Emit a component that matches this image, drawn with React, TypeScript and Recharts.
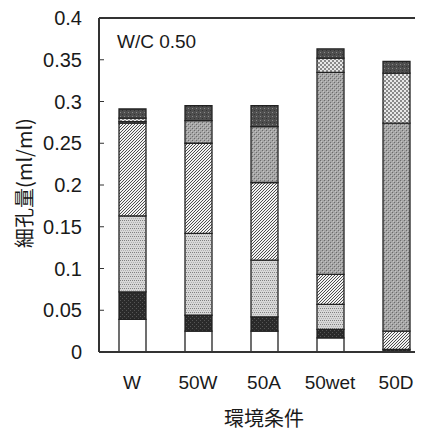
import React from 'react';
import { BarChart, Bar, XAxis, YAxis, ReferenceLine } from 'recharts';

const categories = ['W', '50W', '50A', '50wet', '50D'];
// segments bottom -> top
const seg1 = [0.039, 0.025, 0.025, 0.017, 0.0];
const seg2 = [0.033, 0.019, 0.017, 0.010, 0.003];
const seg3 = [0.091, 0.098, 0.068, 0.030, 0.0];
const seg4 = [0.111, 0.108, 0.093, 0.036, 0.022];
const seg5 = [0.002, 0.027, 0.067, 0.242, 0.249];
const seg6 = [0.004, 0.0, 0.0, 0.017, 0.060];
const seg7 = [0.011, 0.018, 0.025, 0.011, 0.014];
const yTicks = [0, 0.05, 0.1, 0.15, 0.2, 0.25, 0.3, 0.35, 0.4];
const yTickLabels = ['0', '0.05', '0.1', '0.15', '0.2', '0.25', '0.3', '0.35', '0.4'];
const boundaryTicks = [1, 2, 3, 4];

const data = categories.map((c, i) => ({
  name: c,
  s1: seg1[i],
  s2: seg2[i],
  s3: seg3[i],
  s4: seg4[i],
  s5: seg5[i],
  s6: seg6[i],
  s7: seg7[i],
}));

const fills = ['#ffffff', 'url(#pDark)', 'url(#pLight)', 'url(#pHatch)', 'url(#pGray)', 'url(#pCheck)', 'url(#pTop)'];
const keys = ['s1', 's2', 's3', 's4', 's5', 's6', 's7'];

const font = '"Liberation Sans", Arial, sans-serif';
const cjk = '"Noto Sans CJK JP", "Noto Sans CJK SC", sans-serif';

export default function App() {
  return (
    <div style={{ position: 'relative', width: 415, height: 424, overflow: 'hidden' }}>
      <BarChart
        width={440}
        height={424}
        data={data}
        margin={{ top: 10, right: 19, left: 0, bottom: 0 }}
        barCategoryGap={0}
      >
        <defs>
          <pattern id="pDark" patternUnits="userSpaceOnUse" width="4" height="4">
            <rect width="4" height="4" fill="#2a2a2a" />
            <rect x="0" y="0" width="1" height="1" fill="#555" />
            <rect x="2" y="2" width="1" height="1" fill="#555" />
          </pattern>
          <pattern id="pLight" patternUnits="userSpaceOnUse" width="4" height="4">
            <rect width="4" height="4" fill="#d8d8d8" />
            <rect x="0" y="0" width="1" height="1" fill="#808080" />
            <rect x="2" y="0" width="1" height="1" fill="#808080" />
            <rect x="1" y="2" width="1" height="1" fill="#b0b0b0" />
            <rect x="3" y="2" width="1" height="1" fill="#b0b0b0" />
          </pattern>
          <pattern id="pHatch" patternUnits="userSpaceOnUse" width="3" height="3">
            <rect width="3" height="3" fill="#f2f2f2" />
            <path d="M-1,1 l2,-2 M0,3 l3,-3 M2,4 l2,-2" stroke="#3a3a3a" strokeWidth="0.9" />
          </pattern>
          <pattern id="pGray" patternUnits="userSpaceOnUse" width="4" height="4">
            <rect width="4" height="4" fill="#a6a6a6" />
            <rect x="0" y="0" width="1" height="1" fill="#6a6a6a" />
            <rect x="2" y="2" width="1" height="1" fill="#6a6a6a" />
            <rect x="1" y="1" width="1" height="1" fill="#c4c4c4" />
            <rect x="3" y="3" width="1" height="1" fill="#c4c4c4" />
          </pattern>
          <pattern id="pCheck" patternUnits="userSpaceOnUse" width="4" height="4">
            <rect width="4" height="4" fill="#e8e8e8" />
            <rect x="0" y="0" width="2" height="2" fill="#8a8a8a" />
            <rect x="2" y="2" width="2" height="2" fill="#8a8a8a" />
          </pattern>
          <pattern id="pTop" patternUnits="userSpaceOnUse" width="4" height="4">
            <rect width="4" height="4" fill="#4e4e4e" />
            <rect x="0" y="0" width="1" height="1" fill="#888" />
            <rect x="2" y="2" width="1" height="1" fill="#333" />
          </pattern>
        </defs>
        <XAxis
          xAxisId="t"
          type="number"
          domain={[0, 5]}
          ticks={boundaryTicks}
          height={0}
          axisLine={false}
          tick={false}
          tickSize={-5}
          tickLine={{ stroke: '#333', strokeWidth: 1 }}
        />
        <XAxis
          dataKey="name"
          height={80}
          tickLine={false}
          tickSize={0}
          tickMargin={24}
          axisLine={{ stroke: '#333', strokeWidth: 2 }}
          tick={{ fill: '#1a1a1a', fontSize: 19, fontFamily: font }}
        />
        <YAxis
          width={91}
          domain={[0, 0.4]}
          ticks={yTicks}
          interval={0}
          tickFormatter={(v: number) => yTickLabels[yTicks.indexOf(v)] ?? String(v)}
          tickSize={-5}
          tickMargin={22}
          tickLine={{ stroke: '#333', strokeWidth: 1 }}
          axisLine={{ stroke: '#333', strokeWidth: 2 }}
          tick={{ fill: '#1a1a1a', fontSize: 20, fontFamily: font }}
        />
        <ReferenceLine y={0.4} stroke="#333" strokeWidth={2} />
        {keys.map((k, i) => (
          <Bar
            key={k}
            dataKey={k}
            stackId="a"
            fill={fills[i]}
            stroke="#222"
            strokeWidth={1.3}
            barSize={27}
            isAnimationActive={false}
          />
        ))}
      </BarChart>
      <div
        style={{
          position: 'absolute',
          left: 109,
          top: 23,
          fontFamily: font,
          fontSize: 19,
          color: '#1a1a1a',
          lineHeight: '22px',
          whiteSpace: 'nowrap',
        }}
      >
        W/C 0.50
      </div>
      <div
        style={{
          position: 'absolute',
          left: 256,
          top: 410,
          transform: 'translate(-50%, -50%)',
          fontFamily: cjk,
          fontSize: 20,
          color: '#1a1a1a',
          whiteSpace: 'nowrap',
          lineHeight: '20px',
        }}
      >
        環境条件
      </div>
      <div
        style={{
          position: 'absolute',
          left: 16,
          top: 175,
          transform: 'translate(-50%, -50%) rotate(-90deg)',
          fontFamily: cjk,
          fontSize: 20,
          color: '#1a1a1a',
          whiteSpace: 'nowrap',
          lineHeight: '24px',
        }}
      >
        細孔量(ml/ml)
      </div>
    </div>
  );
}
